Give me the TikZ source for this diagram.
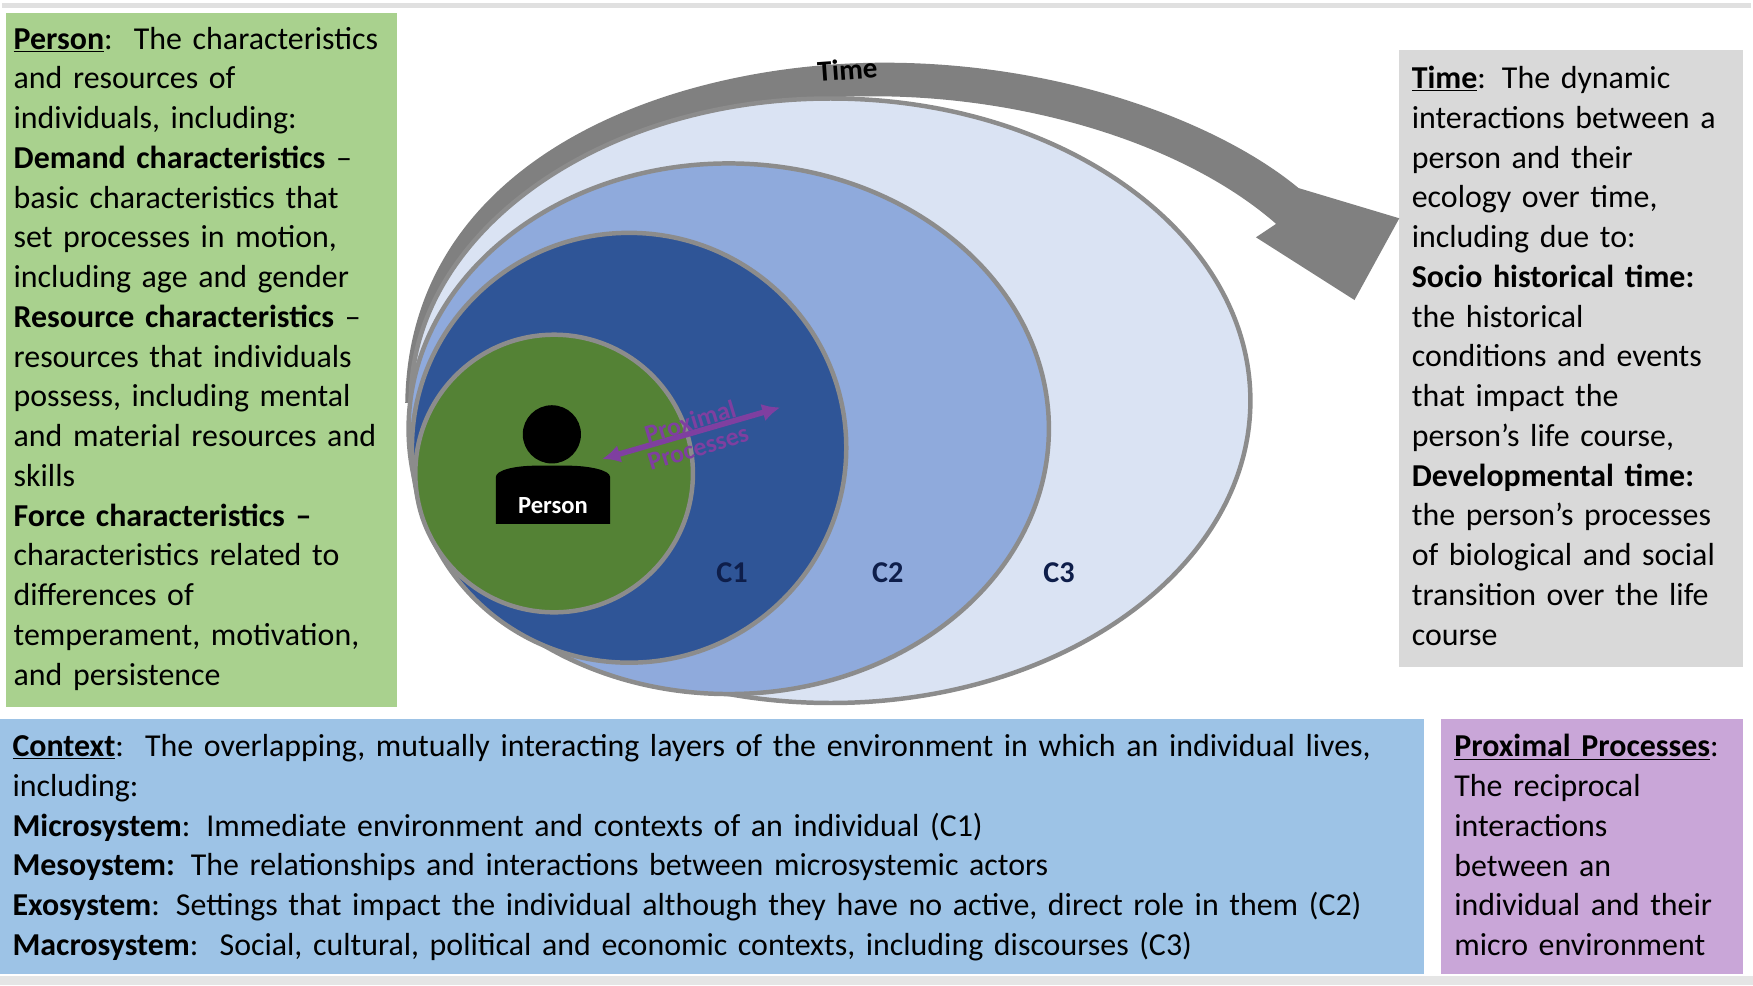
\documentclass[tikz,border=0pt]{standalone}
\usepackage{fontspec}
\usetikzlibrary{arrows.meta}
\setmainfont{Carlito}
\definecolor{persongreen}{HTML}{A9D18E}
\definecolor{timegray}{HTML}{D9D9D9}
\definecolor{contextblue}{HTML}{9DC3E6}
\definecolor{proxpurple}{HTML}{C9A6D8}
\definecolor{cthree}{HTML}{DAE3F3}
\definecolor{ctwo}{HTML}{8FAADC}
\definecolor{cone}{HTML}{2F5597}
\definecolor{cperson}{HTML}{548235}
\definecolor{ringgray}{HTML}{8C8C8C}
\definecolor{arrowpurple}{HTML}{7F3FA0}
\definecolor{labelnavy}{HTML}{0E1E4A}
\begin{document}
\begin{tikzpicture}
[x=1pt, y=-1pt,
 every node/.style={inner sep=0pt},
 txt/.style={anchor=north west, align=left, font=\fontsize{28.5}{35.5}\selectfont},
 ring/.style={draw=ringgray, line width=4pt},
 clabel/.style={font=\fontsize{27}{30}\selectfont\bfseries, text=labelnavy}]
\useasboundingbox (0,0) rectangle (1566,880);
\fill[white] (0,0) rectangle (1566,880);
\draw[color=black!12, line width=5pt] (2,5) -- (1564,5);
\fill[black!10] (0,872) rectangle (1566,880);
% boxes
\fill[persongreen] (5,12) rectangle (355,632);
\fill[timegray] (1250,45) rectangle (1557,596);
\fill[contextblue] (0,642) rectangle (1272,870);
\fill[proxpurple] (1287,642) rectangle (1557,870);
% time arrow
\fill[black!50] (362,360) .. controls (365,140) and (600,56) .. (790,56)
  .. controls (950,56) and (1090,110) .. (1160,168) -- (1250,195) -- (1210,268)
  -- (1122,212) -- (1140,200) .. controls (1060,130) and (920,86) .. (780,86)
  .. controls (580,86) and (380,170) .. (370,360) -- cycle;
% nested contexts
\filldraw[ring, fill=cthree] (742,358) ellipse [x radius=375, y radius=270];
\filldraw[ring, fill=ctwo] (651,383) ellipse [x radius=286, y radius=237];
\filldraw[ring, fill=cone] (562,400) ellipse [x radius=194, y radius=192];
\filldraw[ring, fill=cperson] (495,423) circle [radius=124];
\node (time) [rotate=4, font=\fontsize{26}{30}\selectfont\bfseries] at (757,62) {Time};
\node (c1) [clabel] at (654,512) {C1};
\node (c2) [clabel] at (793,512) {C2};
\node (c3) [clabel] at (946,512) {C3};
% person icon
\fill[black] (493,388) circle [radius=26];
\fill[black, rounded corners=14pt] (443,468) -- (443,440) .. controls (443,420) and (460,416) .. (493,416)
  .. controls (526,416) and (545,420) .. (545,440) [sharp corners] -- (545,468) -- cycle;
\node (person) [text=white, font=\fontsize{22}{26}\selectfont\bfseries] at (494,452) {Person};
% proximal processes
\coordinate (pa) at (538,410);
\coordinate (pb) at (697,364);
\draw[arrowpurple, line width=5pt, {Latex[length=16pt,width=16pt]}-{Latex[length=16pt,width=16pt]}] (pa) -- (pb);
\node (prox) [rotate=17, text=arrowpurple, align=center,
  font=\fontsize{23}{24}\selectfont\bfseries] at (620,388) {Proximal\\Processes};
% texts
\node (persontext) [txt, text width=345pt] at (12,24) {\underline{\textbf{Person}}:\ \ The characteristics\\
and resources of\\ individuals, including:\\ \textbf{Demand characteristics} --\\
basic characteristics that\\ set processes in motion,\\ including age and gender\\
\textbf{Resource characteristics} --\\ resources that individuals\\ possess, including mental\\
and material resources and\\ skills\\ \textbf{Force characteristics --}\\
characteristics related to\\ differences of\\ temperament, motivation,\\ and persistence};
\node (timetext) [txt, text width=300pt] at (1261,59) {\underline{\textbf{Time}}: The dynamic\\
interactions between a\\ person and their\\ ecology over time,\\ including due to:\\
\textbf{Socio historical time:}\\ the historical\\ conditions and events\\ that impact the\\
person's life course,\\ \textbf{Developmental time:}\\ the person's processes\\
of biological and social\\ transition over the life\\ course};
\node (contexttext) [txt, text width=1265pt] at (11,656) {\underline{\textbf{Context}}:\ \ The overlapping, mutually interacting layers of the environment in which an individual lives,\\
including:\\ \textbf{Microsystem}: Immediate environment and contexts of an individual (C1)\\
\textbf{Mesoystem:} The relationships and interactions between microsystemic actors\\
\textbf{Exosystem}: Settings that impact the individual although they have no active, direct role in them (C2)\\
\textbf{Macrosystem}:\ \ Social, cultural, political and economic contexts, including discourses (C3)};
\node (proxtext) [txt, text width=265pt] at (1299,656) {\underline{\textbf{Proximal Processes}}:\\
The reciprocal\\ interactions\\ between an\\ individual and their\\ micro environment};
\end{tikzpicture}
\end{document}
